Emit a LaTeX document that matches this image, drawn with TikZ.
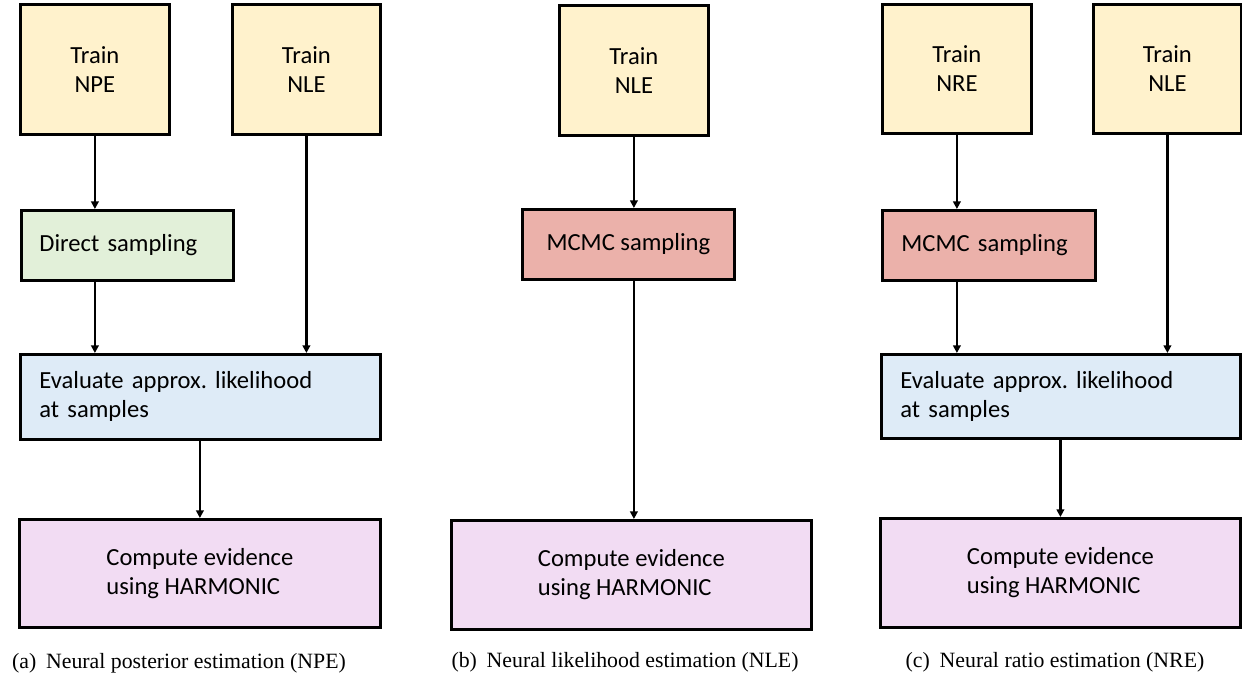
\documentclass[tikz,border=0pt]{standalone}
\usepackage{fontspec}
\setmainfont{Liberation Serif}
\newfontfamily\boxfont{Carlito}
\usetikzlibrary{arrows.meta,positioning,calc}
\frenchspacing

\definecolor{trainfill}{HTML}{FFF2CC}
\definecolor{directfill}{HTML}{E2F0D9}
\definecolor{mcmcfill}{HTML}{EBB1AA}
\definecolor{evalfill}{HTML}{DEEBF7}
\definecolor{evidfill}{HTML}{F2DCF3}

\begin{document}
\begin{tikzpicture}[
    x=0.5pt, y=-0.5pt,
    box/.style={rectangle, draw, line width=1.4pt, inner sep=0pt, anchor=north west, font=\boxfont\fontsize{12.3}{14.5}\selectfont},
    train/.style={box, fill=trainfill, align=center, minimum width=74.5pt, minimum height=65pt},
    sampler/.style={box, minimum height=35pt},
    evalbox/.style={box, fill=evalfill, align=left, inner xsep=9.5pt, text width=161pt, minimum height=42.5pt},
    evidence/.style={box, fill=evidfill, align=left, minimum width=180pt, minimum height=54.5pt},
    arrow/.style={-{Triangle[length=3.8pt,width=3.8pt]}, line width=1.2pt},
    caption/.style={font=\fontsize{10.9}{13}\selectfont}
]
\useasboundingbox (0,0) rectangle (1242,679);

% (a) NPE
\node[train] (npeA) at (19,3) {Train\\NPE};
\node[train, minimum width=74pt] (nleA) at (231,3) {Train\\NLE};
\node[sampler, fill=directfill, align=left, inner xsep=9pt, text width=88pt] (directA) at (20,209) {Direct sampling};
\node[evalbox] (evalA) at (19,353) {Evaluate approx. likelihood\\at samples};
\node[evidence, minimum width=180.5pt, minimum height=54pt] (compA) at (18,518) {Compute evidence\\using HARMONIC};

\draw[arrow] (npeA.south) -- (npeA.south |- directA.north);
\draw[arrow] (directA.south -| npeA.south) -- (evalA.north -| npeA.south);
\draw[arrow] (nleA.south) -- (nleA.south |- evalA.north);
\draw[arrow] (evalA.south -| compA.north) -- (compA.north);

% (b) NLE
\node[train] (nleB) at (558,4) {Train\\NLE};
\node[sampler, fill=mcmcfill, align=center, minimum width=106pt] (mcmcB) at (521,208) {MCMC sampling};
\node[evidence] (compB) at (450,519) {Compute evidence\\using HARMONIC};

\draw[arrow] (nleB.south) -- (nleB.south |- mcmcB.north);
\draw[arrow] (mcmcB.south -| nleB.south) -- (compB.north -| nleB.south);

% (c) NRE
\node[train, minimum height=64.5pt] (nreC) at (881,3) {Train\\NRE};
\node[train, minimum width=74pt, minimum height=64.5pt] (nleC) at (1092,3) {Train\\NLE};
\node[sampler, fill=mcmcfill, align=left, inner xsep=9.5pt, text width=87.5pt] (mcmcC) at (881,209) {MCMC sampling};
\node[evalbox, text width=160.5pt, minimum height=42pt] (evalC) at (880,353) {Evaluate approx. likelihood\\at samples};
\node[evidence] (compC) at (879,517) {Compute evidence\\using HARMONIC};

\draw[arrow] (nreC.south) -- (nreC.south |- mcmcC.north);
\draw[arrow] (mcmcC.south -| nreC.south) -- (evalC.north -| nreC.south);
\draw[arrow] (nleC.south) -- (nleC.south |- evalC.north);
\draw[arrow] (evalC.south -| compC.north) -- (compC.north);

% Captions
\node[caption] (capA) at (179,663) {(a)\hspace{0.45em}Neural posterior estimation (NPE)};
\node[caption] (capB) at (625,662) {(b)\hspace{0.45em}Neural likelihood estimation (NLE)};
\node[caption] (capC) at (1055,662) {(c)\hspace{0.45em}Neural ratio estimation (NRE)};

\end{tikzpicture}
\end{document}
